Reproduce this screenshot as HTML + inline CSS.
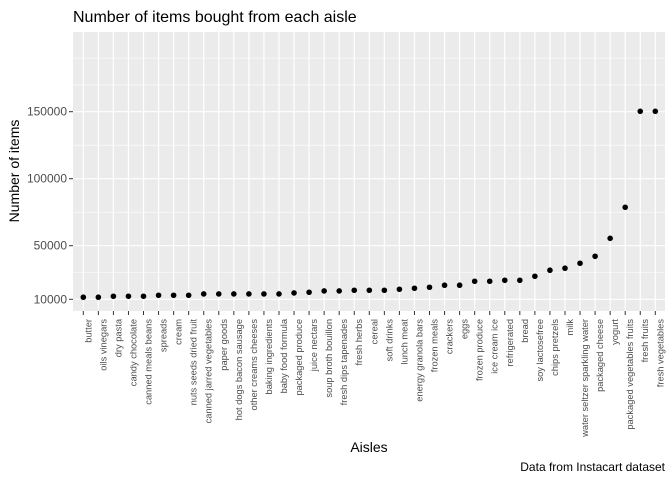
<!DOCTYPE html>
<html><head><meta charset="utf-8"><style>
body{margin:0;background:#fff;font-family:"Liberation Sans",Arial,sans-serif}
svg text{font-family:"Liberation Sans",Arial,sans-serif}
</style></head><body>
<svg id="chart" width="672" height="480">
<text x="73" y="22" font-size="16" fill="#000">Number of items bought from each aisle</text>
<rect x="73" y="32" width="592" height="279" fill="#ebebeb"/>
<g id="grid"></g><g id="yaxis"></g><g id="xaxis"></g><g id="points"></g>
<text x="369" y="452" font-size="14" text-anchor="middle" fill="#000">Aisles</text>
<text transform="translate(19,171) rotate(-90)" font-size="14" text-anchor="middle" fill="#000">Number of items</text>
<text x="665" y="471" font-size="12" text-anchor="end" fill="#000">Data from Instacart dataset</text>
</svg>
<script>
const categories=["butter","oils vinegars","dry pasta","candy chocolate","canned meals beans","spreads","cream","nuts seeds dried fruit","canned jarred vegetables","paper goods","hot dogs bacon sausage","other creams cheeses","baking ingredients","baby food formula","packaged produce","juice nectars","soup broth bouillon","fresh dips tapenades","fresh herbs","cereal","soft drinks","lunch meat","energy granola bars","frozen meals","crackers","eggs","frozen produce","ice cream ice","refrigerated","bread","soy lactosefree","chips pretzels","milk","water seltzer sparkling water","packaged cheese","yogurt","packaged vegetables fruits","fresh fruits","fresh vegetables"];
const counts=[11540,11540,12280,12280,12280,13030,13030,13030,14000,14000,14000,14000,14000,14000,14750,15270,16240,16240,16760,16760,16760,17500,18250,19000,20500,20500,23470,23470,24200,24200,27200,31700,33200,36900,42100,55500,78700,150300,150300];
const yTicks=[10000,50000,100000,150000];
const yMinor=[30000,75000,125000,170000,190000];
const NS="http://www.w3.org/2000/svg";
const y=v=>111.7-(v-150000)*67/50000;
const x=i=>83.3+i*(655.3-83.3)/(categories.length-1);
function mk(t,a,p){const e=document.createElementNS(NS,t);for(const k in a)e.setAttribute(k,a[k]);p.appendChild(e);return e;}
const grid=document.getElementById('grid'),ya=document.getElementById('yaxis'),xa=document.getElementById('xaxis'),pts=document.getElementById('points');
yMinor.forEach(v=>{const l=mk('line',{x1:73,x2:665,y1:y(v),y2:y(v),stroke:'#fff','stroke-width':0.6},grid);

});
yTicks.forEach(v=>{const l=mk('line',{x1:73,x2:665,y1:y(v),y2:y(v),stroke:'#fff','stroke-width':1.2},grid);


const t=mk('line',{x1:69,x2:73,y1:y(v),y2:y(v),stroke:'#333','stroke-width':1},ya);


const tx=mk('text',{x:67,y:y(v)+4,'font-size':12,'text-anchor':'end',fill:'#4d4d4d'},ya);tx.textContent=v;

});
categories.forEach((c,i)=>{const l=mk('line',{x1:x(i),x2:x(i),y1:32,y2:311,stroke:'#fff','stroke-width':1.2},grid);


const t=mk('line',{x1:x(i),x2:x(i),y1:311,y2:315,stroke:'#333','stroke-width':1},xa);


const tx=mk('text',{transform:`translate(${x(i)+8},319) rotate(-90)`,'font-size':9.3,'text-anchor':'end',fill:'#4d4d4d'},xa);tx.textContent=c;


const p=mk('circle',{cx:x(i),cy:y(counts[i]),r:2.8,fill:'#000'},pts);

});
</script>
</body></html>
